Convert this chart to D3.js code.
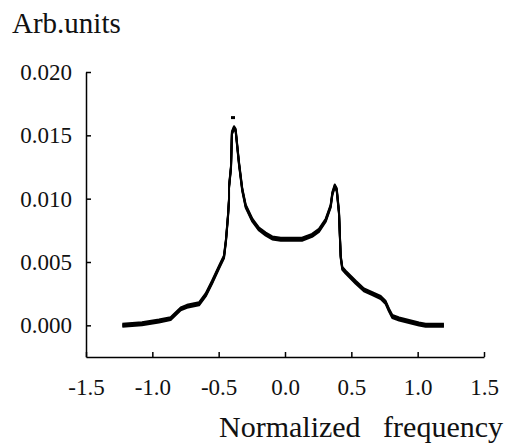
<!DOCTYPE html>
<html>
  <head>
    <meta charset="UTF-8" />
  </head>
  <body style="margin:0">
    <svg id="svg" width="517" height="443"></svg>

    <script src="https://cdn.jsdelivr.net/npm/d3@7"></script>
    <script>
      const WIDTH = 517;
      const HEIGHT = 443;
      const FONT = "Liberation Serif";

      // values
      const freq = [
        -1.226, -1.078, -0.95, -0.862, -0.786, -0.739, -0.648, -0.598, -0.55,
        -0.497, -0.46, -0.445, -0.43, -0.422, -0.422, -0.407, -0.4, -0.384,
        -0.372, -0.347, -0.322, -0.296, -0.246, -0.196, -0.145, -0.096, -0.032,
        0.128, 0.204, 0.256, 0.307, 0.344, 0.357, 0.375, 0.39, 0.407, 0.415,
        0.42, 0.432, 0.457, 0.533, 0.595, 0.658, 0.721, 0.759, 0.784, 0.809,
        0.86, 0.935, 1.01, 1.06, 1.198
      ];
      const amplitude = [
        0.0, 0.00013, 0.00034, 0.00053, 0.0013, 0.0015, 0.0017, 0.0024, 0.0034,
        0.0046, 0.0054, 0.0067, 0.0086, 0.0099, 0.0109, 0.0125, 0.0152, 0.0156,
        0.0154, 0.0128, 0.0107, 0.0094, 0.0083, 0.0076, 0.0072, 0.0069, 0.0068,
        0.0068, 0.0071, 0.0075, 0.0083, 0.0094, 0.0104, 0.011, 0.0107, 0.0089,
        0.0067, 0.0054, 0.0045, 0.0042, 0.0034, 0.0028, 0.0025, 0.0022, 0.0018,
        0.0012, 0.0007, 0.0005, 0.0003, 0.0001, 0.0, 0.0
      ];
      // stray sample above the left peak
      const strayFreq = [-0.392];
      const strayAmp = [0.0164];

      const xTicks = [-1.5, -1.0, -0.5, 0.0, 0.5, 1.0, 1.5];
      const yTicks = [0.0, 0.005, 0.01, 0.015, 0.02];

      const data = freq.map((f, i) => ({ f: f, a: amplitude[i] }));
      const stray = strayFreq.map((f, i) => ({ f: f, a: strayAmp[i] }));

      const xScale = d3.scaleLinear().domain([-1.5, 1.5]).range([86, 484]);
      const yScale = d3.scaleLinear().domain([-0.0025, 0.02]).range([357, 72]);

      const svg = d3.select("#svg");

      // plain hyphen for negatives, like the original
      const fmt1 = (d) => d.toFixed(1);
      const fmt3 = (d) => d.toFixed(3);

      // axes, ticks pointing inward
      const bottomAxis = d3
        .axisBottom(xScale)
        .tickValues(xTicks)
        .tickFormat(fmt1)
        .tickSizeInner(-5)
        .tickSizeOuter(0)
        .tickPadding(22);
      const leftAxis = d3
        .axisLeft(yScale)
        .tickValues(yTicks)
        .tickFormat(fmt3)
        .tickSizeInner(-5)
        .tickSizeOuter(0)
        .tickPadding(14);

      const gx = svg
        .append("g")
        .attr("transform", `translate(0, ${yScale.range()[0]})`)
        .call(bottomAxis);
      const gy = svg
        .append("g")
        .attr("transform", `translate(${xScale.range()[0]}, 0)`)
        .call(leftAxis);

      [gx, gy].forEach((g) => {
        g.attr("font-family", FONT).attr("font-size", 23);
        g.select(".domain").attr("stroke", "#000").attr("stroke-width", 1.5);
        g.selectAll(".tick line").attr("stroke", "#000").attr("stroke-width", 1.5);
        g.selectAll(".tick text").attr("fill", "#111");
      });

      // curve: the plotting pen is tall and narrow, so stack a few copies
      const lineGen = d3
        .line()
        .x((d) => xScale(d.f))
        .y((d) => yScale(d.a))
        .curve(d3.curveLinear);

      svg
        .append("g")
        .selectAll("path")
        .data([-1.5, -0.5, 0.5, 1.5])
        .enter()
        .append("path")
        .attr("transform", (dy) => `translate(0, ${dy})`)
        .attr("d", lineGen(data))
        .attr("fill", "none")
        .attr("stroke", "#000")
        .attr("stroke-width", 2)
        .attr("stroke-linejoin", "round");

      svg
        .append("g")
        .selectAll("rect")
        .data(stray)
        .enter()
        .append("rect")
        .attr("x", (d) => xScale(d.f) - 2)
        .attr("y", (d) => yScale(d.a) - 1.5)
        .attr("width", 4)
        .attr("height", 3)
        .attr("fill", "#000");

      // axis titles
      svg
        .append("text")
        .attr("x", 12)
        .attr("y", 33)
        .attr("fill", "#111")
        .attr("font-family", FONT)
        .attr("font-size", 29)
        .text("Arb.units");

      svg
        .append("text")
        .attr("x", 219)
        .attr("y", 437)
        .attr("fill", "#111")
        .attr("font-family", FONT)
        .attr("font-size", 30)
        .style("white-space", "pre")
        .text("Normalized   frequency");
    </script>
  </body>
</html>
